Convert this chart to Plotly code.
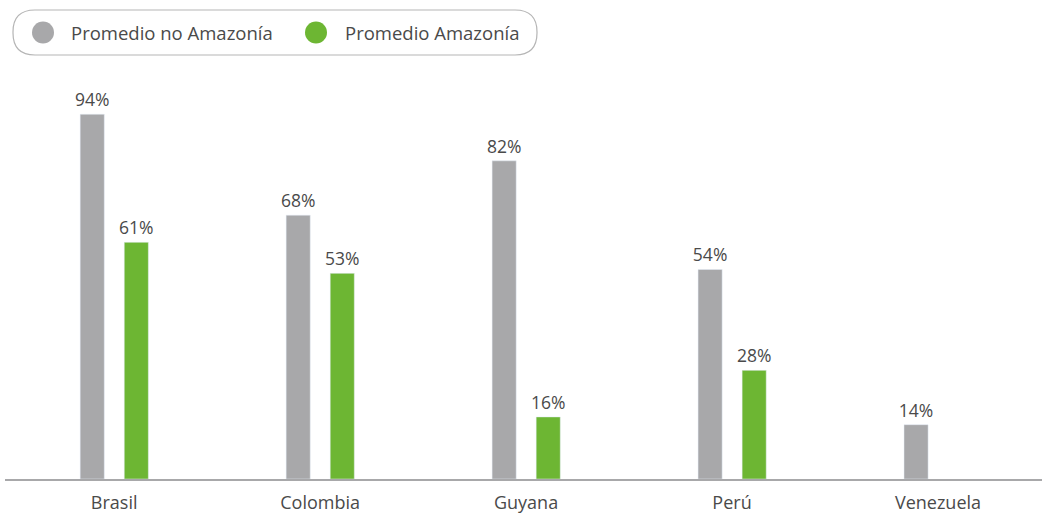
import plotly.graph_objects as go

paises = ["Brasil", "Colombia", "Guyana", "Perú", "Venezuela"]
no_amazonia = [94, 68, 82, 54, 14]
amazonia = [61, 53, 16, 28, None]
nombres = ["Promedio no Amazonía", "Promedio Amazonía"]
colores = ["#a8a8aa", "#6db633"]

FONT = "Open Sans"
TXT = "#4a4a4a"

fig = go.Figure()
for vals, name, color, off in [
    (no_amazonia, nombres[0], colores[0], -0.165),
    (amazonia, nombres[1], colores[1], 0.049),
]:
    fig.add_trace(go.Bar(
        x=paises, y=vals, name=name, marker_color=color,
        width=0.117, offset=off,
        text=[f"{v}%" if v is not None else "" for v in vals],
        textposition="outside", cliponaxis=False, constraintext="none",
        textfont=dict(family=FONT, size=17.5, color=TXT),
        showlegend=False,
    ))

W, H = 1045, 527
ml, mr, mt, mb = 5, 3, 91, 48
pw, ph = W - ml - mr, H - mt - mb


def px(x):
    return (x - ml) / pw


def py(y):
    return (H - mb - y) / ph


# custom legend: rounded frame, circle markers, labels
x0, x1, y0, y1, r = 13, 537, 10, 55, 22
pts = [("M", x0 + r, y0), ("L", x1 - r, y0), ("Q", x1, y0, x1, y0 + r),
       ("L", x1, y1 - r), ("Q", x1, y1, x1 - r, y1), ("L", x0 + r, y1),
       ("Q", x0, y1, x0, y1 - r), ("L", x0, y0 + r), ("Q", x0, y0, x0 + r, y0)]
parts = []
for seg in pts:
    cmd, coords = seg[0], seg[1:]
    xy = []
    for i in range(0, len(coords), 2):
        xy.append(f"{px(coords[i]):.5f} {py(coords[i + 1]):.5f}")
    parts.append(cmd + " " + " ".join(xy))
path = " ".join(parts) + " Z"

shapes = [dict(type="path", xref="paper", yref="paper", path=path,
               line=dict(color="#b5b5b5", width=1.2), fillcolor="white", layer="below")]
annotations = []
for cx, tx, name, color in [(43, 69, nombres[0], colores[0]), (316, 343, nombres[1], colores[1])]:
    rr = 11
    shapes.append(dict(type="circle", xref="paper", yref="paper",
                       x0=px(cx - rr), x1=px(cx + rr), y0=py(32.5 + rr), y1=py(32.5 - rr),
                       fillcolor=color, line=dict(width=0)))
    annotations.append(dict(xref="paper", yref="paper", x=px(tx), y=py(32.5),
                            xanchor="left", yanchor="middle", showarrow=False,
                            text=name, font=dict(family=FONT, size=18.5, color=TXT)))

fig.update_layout(
    width=W, height=H, barmode="overlay",
    margin=dict(l=ml, r=mr, t=mt, b=mb, pad=0),
    paper_bgcolor="white", plot_bgcolor="white",
    xaxis=dict(type="category", range=[-0.53, 4.505], showgrid=False,
               showline=True, linecolor="#a8a8aa", linewidth=2, ticks="",
               ticklabelstandoff=6,
               tickfont=dict(family=FONT, size=18, color=TXT)),
    yaxis=dict(range=[0, 100], visible=False),
    shapes=shapes, annotations=annotations,
)

fig.write_html("out.html")
